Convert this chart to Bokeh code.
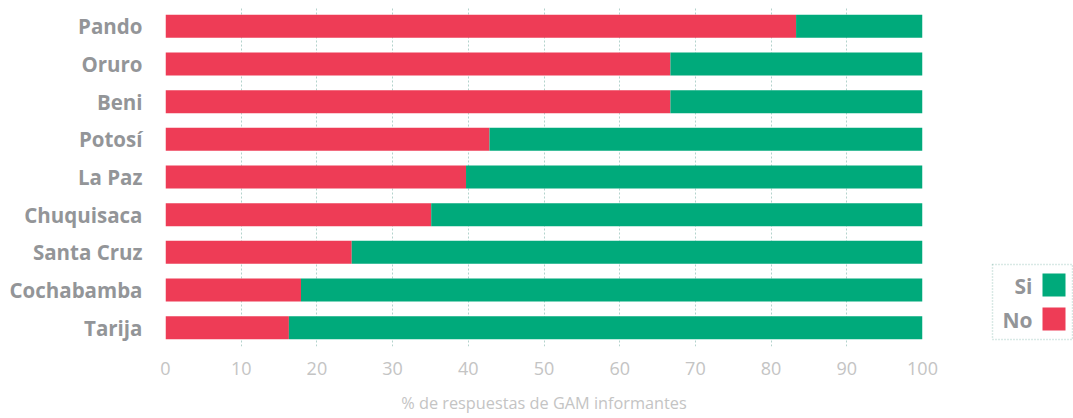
from bokeh.plotting import figure
from bokeh.models import ColumnDataSource, FactorRange, Range1d, FixedTicker
from bokeh.layouts import row
from bokeh.core.properties import value
from bokeh.embed import file_html
from bokeh.resources import INLINE

categories = ["Pando", "Oruro", "Beni", "Potosí", "La Paz", "Chuquisaca", "Santa Cruz", "Cochabamba", "Tarija"]
no_values = [83.3, 66.7, 66.7, 42.8, 39.7, 35.1, 24.6, 17.9, 16.3]
si_values = [16.7, 33.3, 33.3, 57.2, 60.3, 64.9, 75.4, 82.1, 83.7]
x_ticks = [0, 10, 20, 30, 40, 50, 60, 70, 80, 90, 100]
series_labels = ["Si", "No"]

RED = "#ee3c56"
GREEN = "#00aa7b"
LABEL_GRAY = "#939598"
TICK_GRAY = "#c4c4c4"
GRID = "#b3d3cc"

W_MAIN = 940
H = 418
TOP_B = 7
BOT_B = 72

source = ColumnDataSource(dict(cat=categories, no=no_values, si=si_values))

p = figure(width=W_MAIN, height=H, output_backend="svg", toolbar_location=None,
           y_range=FactorRange(factors=categories[::-1], range_padding=0),
           x_range=Range1d(0, 100),
           min_border_left=165, min_border_right=W_MAIN - 922, min_border_top=TOP_B, min_border_bottom=BOT_B)

p.hbar_stack(["no", "si"], y="cat", height=0.61, color=[RED, GREEN], line_color=None, source=source)

p.outline_line_color = None
p.background_fill_color = "white"
p.border_fill_color = "white"
p.ygrid.grid_line_color = None
p.xgrid.ticker = FixedTicker(ticks=x_ticks)
p.xgrid.grid_line_color = GRID
p.xgrid.grid_line_dash = "2 2"
p.xgrid.grid_line_width = 1
p.xgrid.level = "underlay"

p.xaxis.ticker = FixedTicker(ticks=x_ticks)
p.xaxis.axis_line_color = None
p.xaxis.major_tick_line_color = None
p.xaxis.minor_tick_line_color = None
p.xaxis.major_tick_out = 0
p.xaxis.major_label_standoff = 15
p.xaxis.major_label_text_font = "Open Sans"
p.xaxis.major_label_text_font_size = "18px"
p.xaxis.major_label_text_color = TICK_GRAY
p.xaxis.axis_label = "% de respuestas de GAM informantes"
p.xaxis.axis_label_text_font = "Open Sans"
p.xaxis.axis_label_text_font_style = "normal"
p.xaxis.axis_label_text_font_size = "16.3px"
p.xaxis.axis_label_text_color = TICK_GRAY
p.xaxis.axis_label_standoff = 14

p.yaxis.axis_line_color = None
p.yaxis.major_tick_line_color = None
p.yaxis.minor_tick_line_color = None
p.yaxis.major_tick_out = 0
p.yaxis.major_label_standoff = 23
p.yaxis.major_label_text_font = "Open Sans"
p.yaxis.major_label_text_font_style = "bold"
p.yaxis.major_label_text_font_size = "20.5px"
p.yaxis.major_label_text_color = LABEL_GRAY

# legend panel: labels to the left of the swatches (frame is aligned with main plot's frame)
W_LEG = 1073 - W_MAIN
lg = figure(width=W_LEG, height=H, output_backend="svg", toolbar_location=None,
            x_axis_location=None, y_axis_location=None,
            x_range=Range1d(0, W_LEG), y_range=Range1d(H - BOT_B, TOP_B),
            min_border_left=0, min_border_right=0, min_border_top=TOP_B, min_border_bottom=BOT_B)
lg.grid.visible = False
lg.outline_line_color = None
lg.background_fill_color = "white"
lg.border_fill_color = "white"

lg.quad(left=[52], right=[132], top=[264], bottom=[339], fill_color=None,
        line_color=GRID, line_dash="1 2", line_width=1.5)
sw_top = [273, 307]
lg.quad(left=[102, 102], right=[125, 125], top=sw_top, bottom=[t + 23 for t in sw_top],
        fill_color=[GREEN, RED], line_color=None)
lg.text(x=[92, 92], y=[t + 12 for t in sw_top], text=series_labels, text_align="right",
        text_baseline="middle", text_font=value("Open Sans"), text_font_style="bold",
        text_font_size="21px", text_color=LABEL_GRAY)

layout = row(p, lg, spacing=0)
open("out.html", "w").write(file_html(layout, INLINE))
